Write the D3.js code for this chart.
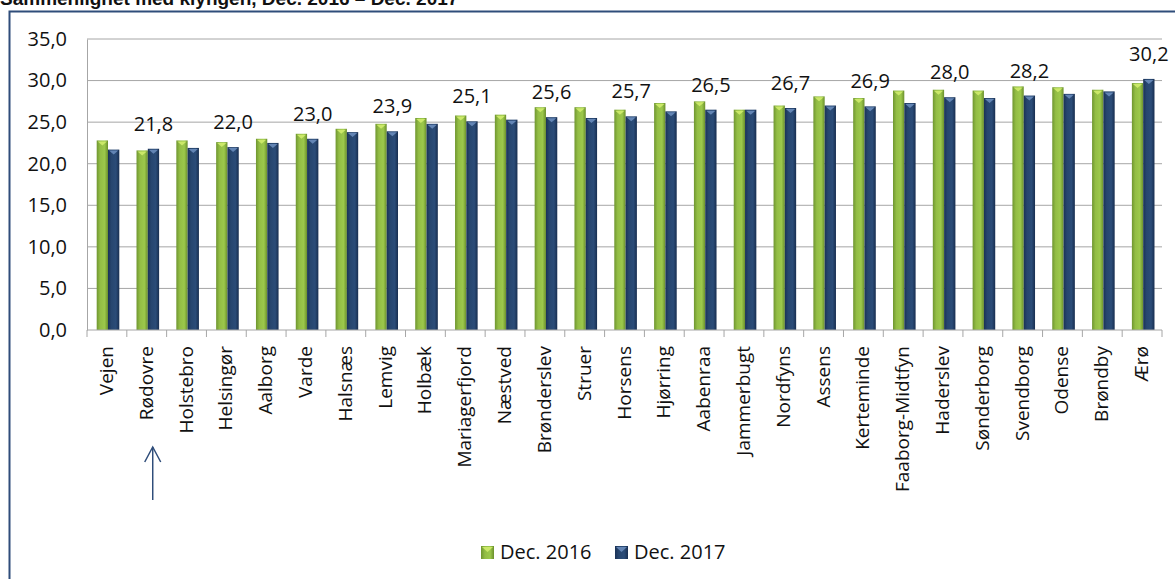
<!DOCTYPE html>
<html>
<head>
<meta charset="utf-8">
<script src="https://cdn.jsdelivr.net/npm/d3@7"></script>
<style>
  body { margin: 0; background: #fff; }
  svg text { font-family: "Open Sans", sans-serif; fill: #111; }
</style>
</head>
<body>
<div id="chart"></div>
<script>
// Kommuner (sorted by Dec. 2017 ranking in the original)
const categories = ["Vejen", "Rødovre", "Holstebro", "Helsingør", "Aalborg", "Varde", "Halsnæs",
  "Lemvig", "Holbæk", "Mariagerfjord", "Næstved", "Brønderslev", "Struer", "Horsens", "Hjørring",
  "Aabenraa", "Jammerbugt", "Nordfyns", "Assens", "Kerteminde", "Faaborg-Midtfyn", "Haderslev",
  "Sønderborg", "Svendborg", "Odense", "Brøndby", "Ærø"];

const dec2016 = [22.8, 21.6, 22.8, 22.6, 23.0, 23.6, 24.2, 24.8, 25.5, 25.8, 25.9, 26.8, 26.8, 26.5,
  27.3, 27.5, 26.5, 27.0, 28.1, 27.9, 28.8, 28.9, 28.8, 29.3, 29.2, 28.9, 29.7];
const dec2017 = [21.7, 21.8, 21.9, 22.0, 22.5, 23.0, 23.8, 23.9, 24.8, 25.1, 25.3, 25.6, 25.5, 25.7,
  26.3, 26.5, 26.5, 26.7, 27.0, 26.9, 27.3, 28.0, 27.9, 28.2, 28.4, 28.7, 30.2];

// which 2017 values got a data label
const labelled = ["Rødovre", "Helsingør", "Varde", "Lemvig", "Mariagerfjord", "Brønderslev", "Horsens",
  "Aabenraa", "Nordfyns", "Kerteminde", "Haderslev", "Svendborg", "Ærø"];

const seriesNames = ["Dec. 2016", "Dec. 2017"];
const yTicks = [0, 5, 10, 15, 20, 25, 30, 35];

const width = 1175, height = 579;
const plot = { left: 87, right: 1162, top: 39, bottom: 330 };
const fmt = v => d3.format(".1f")(v).replace(".", ",");

const svg = d3.select("#chart").append("svg")
  .attr("width", width)
  .attr("height", height);

// gradients for the bevelled bars
const defs = svg.append("defs");
const grads = [
  { id: "g16", stops: ["#6f9630", "#93bd45", "#9cc84b", "#6a8f2c"] },
  { id: "g17", stops: ["#1a3256", "#27466f", "#2b4c78", "#182e50"] }
];
grads.forEach(g => {
  const lg = defs.append("linearGradient").attr("id", g.id)
    .attr("x1", "0").attr("x2", "1").attr("y1", "0").attr("y2", "0");
  g.stops.forEach((c, i) => lg.append("stop")
    .attr("offset", [0, 0.3, 0.7, 1][i]).attr("stop-color", c));
});
const topColors = ["#d4ee6e", "#6d8fbf"];

// title (cut off at the top in the original)
svg.append("text")
  .attr("x", 0).attr("y", 5)
  .style("font-family", "'Liberation Sans', Arial, sans-serif")
  .style("font-weight", "bold")
  .style("font-size", "19px")
  .text("Sammenlignet med klyngen, Dec. 2016 – Dec. 2017");

// chart frame
svg.append("rect")
  .attr("x", 9.5).attr("y", 11.5)
  .attr("width", 1175).attr("height", 600)
  .attr("fill", "none")
  .attr("stroke", "#2f4d7a")
  .attr("stroke-width", 2);

const x0 = d3.scaleBand().domain(categories).range([plot.left, plot.right]);
const x1 = d3.scaleBand().domain(seriesNames).range([9.7, 32.3]);
const y = d3.scaleLinear().domain([0, 35]).range([plot.bottom, plot.top]);

// gridlines
svg.append("g")
  .selectAll("line")
  .data(yTicks.filter(t => t > 0))
  .join("line")
  .attr("x1", plot.left).attr("x2", plot.right)
  .attr("y1", d => y(d)).attr("y2", d => y(d))
  .attr("stroke", "#a6a6a6").attr("stroke-width", 1);

// y axis
const yAxis = svg.append("g")
  .attr("transform", `translate(${plot.left},0)`)
  .call(d3.axisLeft(y).tickValues(yTicks).tickFormat(fmt).tickSize(0).tickPadding(20));
yAxis.select(".domain").attr("stroke", "#a6a6a6");
yAxis.selectAll("text")
  .style("font-size", "20px")
  .style("font-family", "'Open Sans', sans-serif")
  .attr("fill", "#111");

// bars
const rows = categories.map((c, i) => ({ c, vals: [dec2016[i], dec2017[i]] }));
const groups = svg.append("g").selectAll("g")
  .data(rows)
  .join("g")
  .attr("transform", d => `translate(${x0(d.c)},0)`);

groups.selectAll("rect")
  .data(d => d.vals.map((v, k) => ({ v, k })))
  .join("rect")
  .attr("x", d => x1(seriesNames[d.k]))
  .attr("y", d => y(d.v))
  .attr("width", x1.bandwidth())
  .attr("height", d => y(0) - y(d.v))
  .attr("fill", d => `url(#${grads[d.k].id})`);

// small bevel triangle on top of each bar
groups.selectAll("path.bevel")
  .data(d => d.vals.map((v, k) => ({ v, k })))
  .join("path")
  .attr("class", "bevel")
  .attr("d", d => {
    const bx = x1(seriesNames[d.k]), bw = x1.bandwidth(), by = y(d.v);
    return `M${bx + 1},${by + 1}L${bx + bw - 1},${by + 1}L${bx + bw / 2},${by + 5}Z`;
  })
  .attr("fill", d => topColors[d.k])
  .attr("opacity", 0.85);

// x axis
const xAxis = svg.append("g")
  .attr("transform", `translate(0,${plot.bottom})`);
xAxis.append("line")
  .attr("x1", plot.left).attr("x2", plot.right)
  .attr("stroke", "#a6a6a6");
xAxis.selectAll("line.tick")
  .data(categories.concat(["__end"]))
  .join("line")
  .attr("class", "tick")
  .attr("x1", (d, i) => plot.left + i * x0.step())
  .attr("x2", (d, i) => plot.left + i * x0.step())
  .attr("y1", 0).attr("y2", 7)
  .attr("stroke", "#a6a6a6");
xAxis.selectAll("text")
  .data(categories)
  .join("text")
  .attr("transform", d => `translate(${x0(d) + x0.bandwidth() / 2 + 6},16) rotate(-90)`)
  .attr("text-anchor", "end")
  .style("font-size", "19px")
  .text(d => d);

// data labels on selected 2017 bars
svg.append("g").selectAll("text")
  .data(rows.filter(r => labelled.includes(r.c)))
  .join("text")
  .attr("x", d => x0(d.c) + x1("Dec. 2017") + x1.bandwidth() / 2)
  .attr("y", d => y(d.vals[1]) - 18)
  .attr("text-anchor", "middle")
  .style("font-size", "20px")
  .text(d => fmt(d.vals[1]));

// arrow under Rødovre
const ax = x0("Rødovre") + x0.bandwidth() / 2 + 6;
const arrow = svg.append("g").attr("stroke", "#2f4d7a").attr("stroke-width", 1.5).attr("fill", "none");
arrow.append("line").attr("x1", ax).attr("x2", ax).attr("y1", 447).attr("y2", 500);
arrow.append("path").attr("d", `M${ax - 8},462L${ax},447L${ax + 8},462`);

// legend
const legend = svg.append("g").attr("transform", "translate(481,546)");
seriesNames.forEach((s, k) => {
  const g = legend.append("g").attr("transform", `translate(${k * 134},0)`);
  g.append("rect").attr("width", 13).attr("height", 13).attr("fill", `url(#${grads[k].id})`);
  g.append("path").attr("d", "M1,1L12,1L6.5,6Z").attr("fill", topColors[k]).attr("opacity", 0.85);
  g.append("text").attr("x", 19).attr("y", 12.5).style("font-size", "20px").text(s);
});
</script>
</body>
</html>
